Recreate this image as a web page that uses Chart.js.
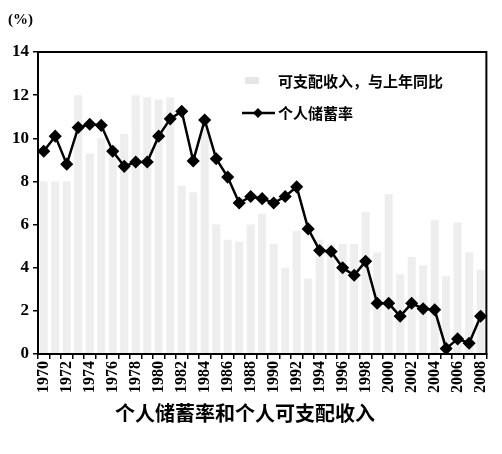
<!DOCTYPE html>
<html><head><meta charset="utf-8">
<script src="https://cdn.jsdelivr.net/npm/chart.js@4/dist/chart.umd.min.js"></script>
<style>html,body{margin:0;padding:0;background:#fff;}#wrap{width:502px;height:454px;position:relative;}</style>
</head><body><div id="wrap"><canvas id="c" width="502" height="454"></canvas></div>
<script>
const years = ['1970','1971','1972','1973','1974','1975','1976','1977','1978','1979','1980','1981','1982','1983','1984','1985','1986','1987','1988','1989','1990','1991','1992','1993','1994','1995','1996','1997','1998','1999','2000','2001','2002','2003','2004','2005','2006','2007','2008'];
const savingsRate = [9.4,10.1,8.8,10.5,10.65,10.6,9.4,8.7,8.9,8.9,10.1,10.9,11.25,8.95,10.85,9.05,8.2,7.0,7.3,7.2,7.0,7.3,7.75,5.8,4.8,4.75,4.0,3.65,4.3,2.35,2.35,1.75,2.35,2.1,2.05,0.25,0.7,0.5,1.75];
const incomeGrowth = [8.0,8.0,8.0,12.0,9.3,10.0,9.7,10.2,12.0,11.9,11.8,11.9,7.8,7.5,10.9,6.0,5.3,5.2,6.0,6.5,5.1,4.0,5.7,3.5,5.3,5.1,5.1,5.1,6.6,4.7,7.4,3.7,4.5,4.1,6.2,3.6,6.1,4.7,3.9];
const yTicks = [0,2,4,6,8,10,12,14];
const seriesNames = ['可支配收入，与上年同比','个人储蓄率'];
const chartTitle = '个人储蓄率和个人可支配收入';
const unitLabel = '(%)';

const serif = "'Liberation Serif','DejaVu Serif',serif";
const cjk = "'Noto Sans CJK SC','Noto Sans',sans-serif";

const deco = {
  id:'deco',
  afterDraw(chart){
    const ctx = chart.ctx, a = chart.chartArea;
    ctx.save();
    ctx.strokeStyle = '#000'; ctx.lineWidth = 2;
    ctx.strokeRect(a.left, a.top, a.right-a.left, a.bottom-a.top);
    ctx.fillStyle = '#000';
    ctx.font = "bold 15px " + serif;
    ctx.textAlign = 'left'; ctx.textBaseline = 'middle';
    ctx.fillText(unitLabel, 8, 20);
    // legend
    ctx.fillStyle = '#e6e6e6';
    ctx.fillRect(245, 77, 14, 7);
    ctx.fillStyle = '#000';
    ctx.font = "bold 15px " + cjk;
    ctx.fillText(seriesNames[0], 278, 81);
    ctx.lineWidth = 2.5;
    ctx.beginPath(); ctx.moveTo(242,113); ctx.lineTo(275,113); ctx.stroke();
    ctx.beginPath(); ctx.moveTo(258,108); ctx.lineTo(263,113); ctx.lineTo(258,118); ctx.lineTo(253,113); ctx.closePath(); ctx.fill();
    ctx.fillText(seriesNames[1], 278, 113);
    ctx.font = "bold 20px " + cjk;
    ctx.textAlign = 'center';
    ctx.fillText(chartTitle, 245, 413);
    ctx.restore();
  }
};

new Chart(document.getElementById('c'), {
  data: {
    labels: years,
    datasets: [
      { type:'line', label: seriesNames[1], data: savingsRate, borderColor:'#000', backgroundColor:'#000', borderWidth:2.5, pointStyle:'rectRot', pointRadius:4.8, pointBackgroundColor:'#000', tension:0, order:0 },
      { type:'bar', label: seriesNames[0], data: incomeGrowth, backgroundColor:'#eeeeee', borderWidth:0, barPercentage:0.7, categoryPercentage:1.0, order:1 }
    ]
  },
  options: {
    responsive:false, animation:false, devicePixelRatio:1,
    layout:{ padding:{ left:0, right:13, top:52, bottom:0 } },
    plugins:{ legend:{display:false}, tooltip:{enabled:false}, title:{display:false} },
    scales:{
      x:{
        type:'category', offset:true,
        grid:{ display:true, drawOnChartArea:false, drawTicks:true, tickLength:5, color:'#000', lineWidth:1.5 },
        border:{ display:true, color:'#000', width:2 },
        ticks:{ color:'#000', font:{ family:serif, size:16, weight:'bold' }, minRotation:90, maxRotation:90, autoSkip:false, padding:2,
          callback:function(v,i){ return i%2===0 ? years[i] : ''; } },
        afterFit(s){ s.height = 100; }
      },
      y:{
        min:0, max:14,
        afterBuildTicks(s){ s.ticks = yTicks.map(v=>({value:v})); },
        grid:{ display:true, drawOnChartArea:false, drawTicks:true, tickLength:5, color:'#000', lineWidth:1.5 },
        border:{ display:true, color:'#000', width:2 },
        ticks:{ color:'#000', font:{ family:serif, size:17, weight:'bold' }, padding:4 },
        afterFit(s){ s.width = 38; }
      }
    }
  },
  plugins:[deco]
});
</script></body></html>
